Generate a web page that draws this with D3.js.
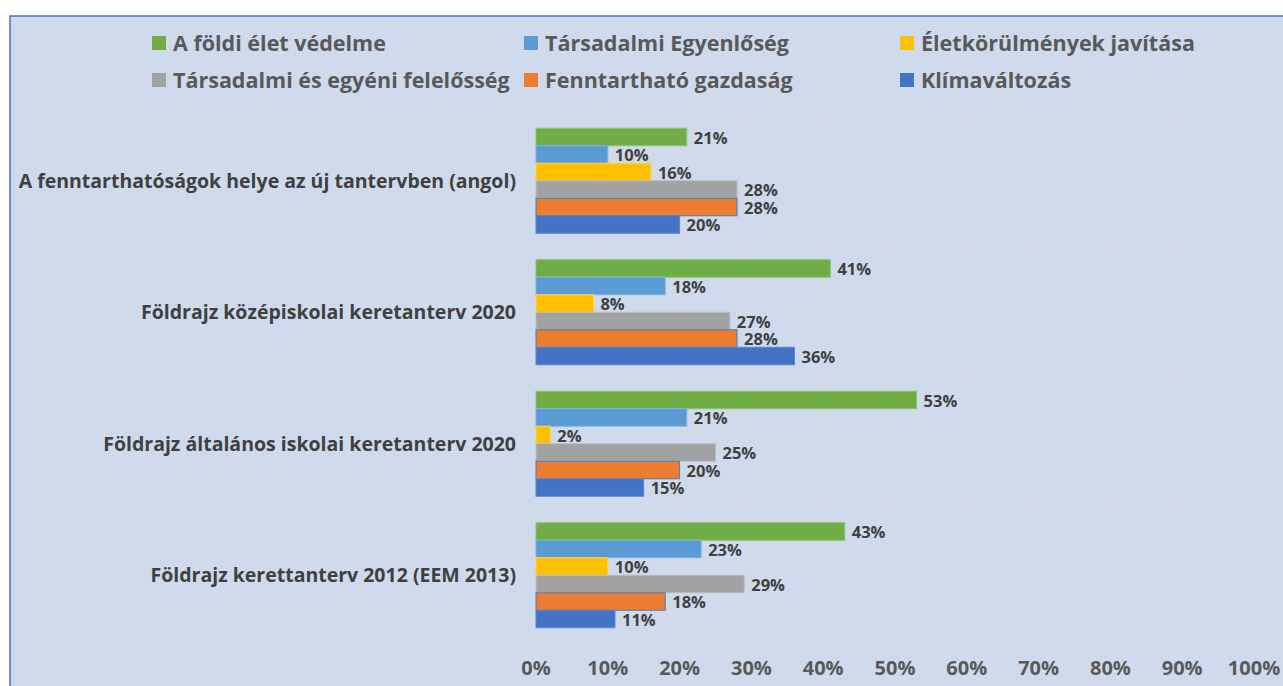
<!DOCTYPE html>
<html>
<head>
<meta charset="utf-8">
<script src="https://cdn.jsdelivr.net/npm/d3@7"></script>
<style>
  body { margin: 0; background: #fff; }
  text { font-family: "Open Sans", "Liberation Sans", sans-serif; font-weight: bold; }
</style>
</head>
<body>
<div id="chart"></div>
<script>
// chart data
const categories = [
  'A fenntarthatóságok helye az új tantervben (angol)',
  'Földrajz középiskolai keretanterv 2020',
  'Földrajz általános iskolai keretanterv 2020',
  'Földrajz kerettanterv 2012 (EEM 2013)'
]
const seriesNames = [
  'A földi élet védelme',
  'Társadalmi Egyenlőség',
  'Életkörülmények javítása',
  'Társadalmi és egyéni felelősség',
  'Fenntartható gazdaság',
  'Klímaváltozás'
]
const foldiElet = [21, 41, 53, 43]
const egyenloseg = [10, 18, 21, 23]
const eletkorulmenyek = [16, 8, 2, 10]
const felelosseg = [28, 27, 25, 29]
const gazdasag = [28, 28, 20, 18]
const klima = [20, 36, 15, 11]
const xTicks = [0, 10, 20, 30, 40, 50, 60, 70, 80, 90, 100]

const seriesValues = [foldiElet, egyenloseg, eletkorulmenyek, felelosseg, gazdasag, klima]
const colors = ['#70ad47', '#5b9bd5', '#ffc000', '#a0a2a3', '#ed7d31', '#4472c4']
const strokes = ['#8cc56a', '#7fb3e2', '#ffd34d', '#bdbdbd', '#4a7ebb', '#5a88d0']

let w = 1283, h = 686
let svg = d3.select('#chart').append('svg').attr('width', w).attr('height', h)

// chart area
svg.append('rect')
  .attr('x', 10).attr('y', 16)
  .attr('width', 1400).attr('height', 800)
  .attr('fill', '#cfdbec')
  .attr('stroke', '#4472c4')
  .attr('stroke-width', 1.5)

let xScale = d3.scaleLinear().domain([0, 100]).range([536, 1254])
let yScale = d3.scaleBand().domain(categories).range([115, 641])
let inner = d3.scaleBand().domain(seriesNames).range([0, yScale.bandwidth()])
  .paddingInner(0).paddingOuter(0.755)

// gridlines
svg.append('g').selectAll('line').data(xTicks).enter().append('line')
  .attr('x1', d => xScale(d)).attr('x2', d => xScale(d))
  .attr('y1', 115).attr('y2', 641)
  .attr('stroke', '#d9d9d9').attr('stroke-width', 1)

// category separators
let seps = categories.map(c => yScale(c)).concat([641])
svg.append('g').selectAll('line').data(seps).enter().append('line')
  .attr('x1', 536).attr('x2', xScale(100))
  .attr('y1', d => d).attr('y2', d => d)
  .attr('stroke', '#d9d9d9').attr('stroke-width', 1)

// bars
seriesValues.forEach((vals, si) => {
  let g = svg.append('g')
  g.selectAll('rect').data(vals).enter().append('rect')
    .attr('x', xScale(0))
    .attr('y', (d, i) => yScale(categories[i]) + inner(seriesNames[si]))
    .attr('width', d => xScale(d) - xScale(0))
    .attr('height', inner.bandwidth())
    .attr('fill', colors[si])
    .attr('stroke', strokes[si])
    .attr('stroke-width', 1)

  g.selectAll('text').data(vals).enter().append('text')
    .attr('x', d => xScale(d) + 7)
    .attr('y', (d, i) => yScale(categories[i]) + inner(seriesNames[si]) + inner.bandwidth() / 2 + 1)
    .attr('dy', '0.35em')
    .attr('font-size', 16.5)
    .attr('fill', '#404040')
    .text(d => d + '%')
})

// category labels
svg.append('g').selectAll('text').data(categories).enter().append('text')
  .attr('x', 516)
  .attr('y', d => yScale(d) + yScale.bandwidth() / 2)
  .attr('dy', '0.35em')
  .attr('text-anchor', 'end')
  .attr('font-size', 19.5)
  .attr('fill', '#404040')
  .text(d => d)

// x axis labels
svg.append('g').selectAll('text').data(xTicks).enter().append('text')
  .attr('x', d => xScale(d))
  .attr('y', 668)
  .attr('dy', '0.35em')
  .attr('text-anchor', 'middle')
  .attr('font-size', 20)
  .attr('fill', '#595959')
  .text(d => d + '%')

// legend
let legendPos = [[152, 43], [524, 43], [900, 43], [152, 80], [524, 80], [900, 80]]
let lg = svg.append('g').selectAll('g').data(seriesNames).enter().append('g')
  .attr('transform', (d, i) => `translate(${legendPos[i][0]},${legendPos[i][1]})`)
lg.append('rect')
  .attr('x', 0).attr('y', -7)
  .attr('width', 14).attr('height', 14)
  .attr('fill', (d, i) => colors[i])
lg.append('text')
  .attr('x', 21).attr('y', 0)
  .attr('dy', '0.35em')
  .attr('font-size', 21.5)
  .attr('fill', '#595959')
  .text(d => d)
</script>
</body>
</html>
